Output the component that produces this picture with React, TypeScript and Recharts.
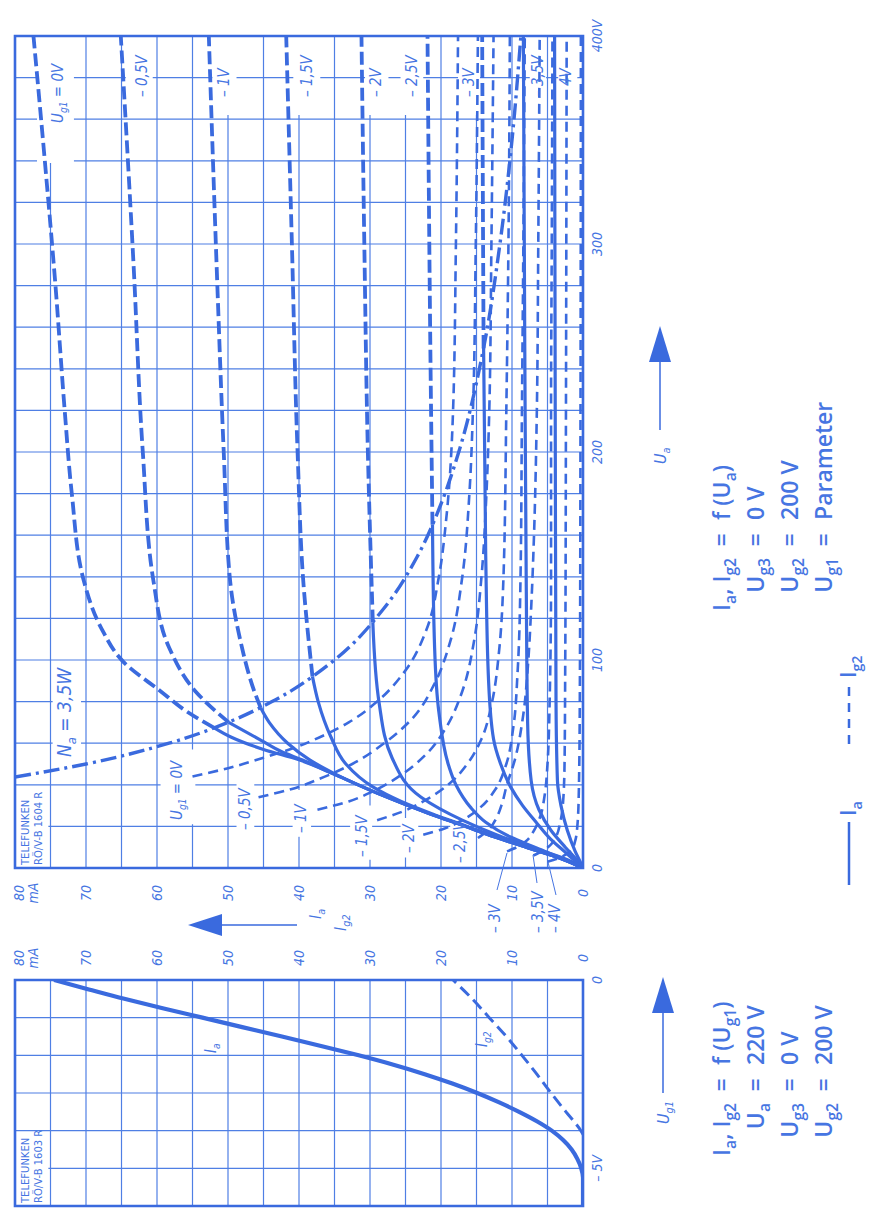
import React from 'react';
import { LineChart, Line, XAxis, YAxis, CartesianGrid, ReferenceArea } from 'recharts';

const BLUE = '#3a6ade';
const GRID = '#4f7fe4';
const INK = '#4675e2';

// axis grid + labels
const uaTicks = [0, 20, 40, 60, 80, 100, 120, 140, 160, 180, 200, 220, 240, 260, 280, 300, 320, 340, 360, 380, 400];
const uaLabels = [0, 100, 200, 300, 400];
const currentTicks = [0, 5, 10, 15, 20, 25, 30, 35, 40, 45, 50, 55, 60, 65, 70, 75, 80];
const currentLabels = [0, 10, 20, 30, 40, 50, 60, 70, 80];
const ug1Ticks = [-6, -5, -4, -3, -2, -1, 0];
const ug1Labels = [0, -5];

type Pair = [number, number];

// Ia = f(Ua), [Ua V, Ia mA]; limit = Ua where the curve meets Na = 3,5 W
const ia0: Pair[] = [[0, 0], [5, 3.5], [10, 8], [15, 12.5], [20, 16.5], [26, 21.5], [36, 29], [45, 35], [52, 40], [57, 45], [63, 49.6], [67.5, 52], [75, 55.7], [85, 59.5], [99, 64.7], [115, 67.8], [138, 70.3], [180, 72], [220, 73], [280, 74.3], [340, 75.8], [400, 77.4]];
const ia05: Pair[] = [[0, 0], [5, 3.5], [10, 8], [15, 12.5], [20, 16.5], [26, 21.5], [36, 29], [45, 35], [52, 39.6], [56, 42.5], [61.5, 45.4], [70, 49.9], [85, 54.6], [106, 58.3], [138, 60.5], [200, 62], [290, 63.3], [400, 65.1]];
const ia1: Pair[] = [[0, 0], [5, 3.5], [10, 8], [15, 12.5], [20, 16.5], [26, 21.5], [36, 29], [45, 34.8], [52, 38.5], [60, 41.6], [70, 44.2], [77, 45.4], [85, 46.3], [110, 48.3], [138, 49.7], [200, 50.6], [280, 51.5], [400, 52.7]];
const ia15: Pair[] = [[0, 0], [5, 3.4], [10, 7.8], [15, 12.3], [20, 16.3], [26, 21.2], [32, 25.6], [39, 29.6], [50, 33.4], [63, 35.5], [80, 37.3], [92, 38.1], [138, 39.4], [200, 40.2], [300, 41], [400, 41.8]];
const ia2: Pair[] = [[0, 0], [4, 2.2], [10, 7.3], [16, 12.2], [23, 17], [34, 22.8], [53, 26.9], [79, 28.7], [118, 29.6], [200, 30.3], [300, 30.8], [400, 31.2]];
const ia25: Pair[] = [[0, 0], [5, 3.2], [10, 6.8], [15, 10.3], [22, 13.7], [29, 15.8], [40, 17.9], [49, 18.9], [75, 20.3], [106, 20.9], [165, 21.2], [250, 21.5], [320, 21.7], [400, 21.9]];
const ia3: Pair[] = [[0, 0], [7, 2.3], [14, 4.6], [22, 6.6], [30, 8.5], [39, 10.2], [50, 11.6], [62, 12.6], [90, 13.3], [150, 13.7], [250, 14], [320, 14.1], [400, 14.2]];
const ia35: Pair[] = [[0, 0], [4, 0.9], [10, 2.5], [18, 4.5], [28, 6.2], [42, 7.3], [70, 7.8], [140, 8], [250, 8.2], [400, 8.4]];
const ia4: Pair[] = [[0, 0], [3, 0.4], [8, 1.1], [18, 2.2], [30, 3.1], [42, 3.6], [80, 3.8], [200, 3.9], [400, 4]];

const iaCurves = [
  { name: '0', pts: ia0, limit: 67.5 },
  { name: '-0.5', pts: ia05, limit: 70 },
  { name: '-1', pts: ia1, limit: 77 },
  { name: '-1.5', pts: ia15, limit: 92 },
  { name: '-2', pts: ia2, limit: 118 },
  { name: '-2.5', pts: ia25, limit: 165 },
  { name: '-3', pts: ia3, limit: 250 },
  { name: '-3.5', pts: ia35, limit: 400 },
  { name: '-4', pts: ia4, limit: 400 },
];

// Ig2 = f(Ua)
const ig20: Pair[] = [[44, 55], [48, 50], [53, 45], [58, 40.5], [63, 37], [70, 33], [80, 29], [95, 25], [115, 22], [140, 20.3], [170, 19.2], [220, 18.3], [300, 17.9], [400, 17.6]];
const ig205: Pair[] = [[34, 45.7], [38, 41], [43, 37], [50, 32.5], [60, 28], [72, 24], [88, 21], [110, 18.6], [140, 17], [180, 16], [220, 15.5], [300, 15.1], [400, 14.8]];
const ig21: Pair[] = [[28, 37.4], [32, 33], [37, 29.5], [45, 25.5], [55, 22], [68, 19.2], [85, 17], [110, 15.3], [140, 14.3], [180, 13.6], [220, 13.2], [300, 12.9], [400, 12.6]];
const ig215: Pair[] = [[23, 29], [27, 25.5], [32, 22.5], [40, 19], [50, 16.3], [62, 14.3], [80, 12.8], [105, 11.8], [140, 11.2], [220, 10.8], [300, 10.5], [400, 10.3]];
const ig22: Pair[] = [[16, 22.5], [19, 19.5], [23, 17], [29, 14.5], [38, 12.3], [50, 10.8], [68, 9.8], [95, 9.2], [140, 8.8], [220, 8.6], [300, 8.4], [400, 8.2]];
const ig225: Pair[] = [[14.4, 14.8], [18, 13.4], [24, 12.2], [31, 11.4], [39, 10.8], [52, 9.6], [74, 8.4], [100, 7.7], [125, 7.3], [160, 6.9], [220, 6.5], [300, 6.3], [400, 6.1]];
const ig23: Pair[] = [[8, 10.7], [10, 9.3], [13, 8], [18, 6.9], [25, 6], [35, 5.4], [50, 5], [80, 4.7], [140, 4.5], [220, 4.5], [300, 4.4], [400, 4.3]];
const ig235: Pair[] = [[6, 7], [8, 5.8], [11, 4.6], [15, 3.8], [22, 3.2], [32, 2.8], [50, 2.6], [100, 2.5], [220, 2.4], [400, 2.3]];
const ig24: Pair[] = [[3, 5], [4.5, 3.6], [6.5, 2.4], [9, 1.6], [13, 1.1], [20, 0.8], [35, 0.6], [80, 0.45], [220, 0.35], [400, 0.3]];
const ig2Curves = [ig20, ig205, ig21, ig215, ig22, ig225, ig23, ig235, ig24];

// Na = 3,5 W
const na: Pair[] = [[43.75, 80], [50, 70], [60, 58.3], [70, 50], [80, 43.8], [100, 35], [125, 28], [150, 23.3], [175, 20], [200, 17.5], [250, 14], [300, 11.7], [350, 10], [400, 8.75]];

// Ia, Ig2 = f(Ug1) at Ua = 220 V, [Ug1 V, mA]
const ugIa: Pair[] = [[-6, 0], [-5.25, 0], [-5, 0.25], [-4.75, 0.8], [-4.5, 1.6], [-4.25, 2.8], [-4, 4.4], [-3.75, 6.5], [-3.5, 9], [-3.25, 11.8], [-3, 14.9], [-2.75, 18.4], [-2.5, 22.3], [-2.25, 26.7], [-2, 31.6], [-1.75, 36.9], [-1.5, 42.4], [-1.25, 48], [-1, 53.6], [-0.75, 59.2], [-0.5, 64.6], [-0.25, 69.6], [0, 74.5]];
const ugIg2: Pair[] = [[-4.1, 0], [-4, 0.3], [-3.75, 1.3], [-3.5, 2.4], [-3, 4.5], [-2.5, 6.5], [-2, 8.6], [-1.5, 10.8], [-1, 13.2], [-0.5, 15.6], [0, 18.3]];

// white boxes behind labels [x1, x2, y1, y2] in data units
const upperBoxes = [
  [339, 400, 71.7, 76.9], [362, 400, 60.6, 64.4], [362, 400, 48.8, 52.2], [362, 400, 37, 40.8],
  [362, 400, 27.4, 30.7], [362, 400, 22.5, 25.7], [362, 400, 14.5, 17.6], [362, 400, 5.2, 7.5],
  [362, 400, 0.8, 3.5], [52, 98, 70.7, 74.7], [21, 57, 54.6, 59.5], [17, 42, 46.3, 48.8],
  [15, 37.5, 38.3, 40.9], [4, 30, 29.7, 32.8], [5, 24, 23.2, 25.7], [1, 22, 15.9, 18.7], [0, 36, 75.3, 80],
];
const lowerBoxes = [[-6, -4.05, 75.3, 80]];

const ua = (p: Pair[]) => p.map(([x, i]) => ({ ua: x, i }));
const ug = (p: Pair[]) => p.map(([x, i]) => ({ ug: x, i }));

const numFont = {
  fontFamily: "'DejaVu Sans Condensed', 'DejaVu Sans', sans-serif",
  fontStyle: 'italic' as const,
  fontSize: 14,
  fill: INK,
};
const SANS = "'Open Sans', 'DejaVu Sans', sans-serif";
const FS = 23;
const txtFont = { fontFamily: SANS, fontSize: FS, fontWeight: 600, fill: INK };

type Part = [string, boolean?];
const Rich = ({ x, y, parts, anchor = 'start', size = 16, italic = true, family, weight = 400 }: any) => {
  let prev = false;
  return (
    <text
      x={x}
      y={y}
      textAnchor={anchor}
      fontSize={size}
      fontWeight={weight}
      fontStyle={italic ? 'italic' : 'normal'}
      fontFamily={family || numFont.fontFamily}
      fill={INK}
    >
      {(parts as Part[]).map(([s, sub], k) => {
        const dy = sub && !prev ? size * 0.28 : !sub && prev ? -size * 0.28 : 0;
        prev = !!sub;
        return (
          <tspan key={k} dy={dy} fontSize={sub ? size * 0.68 : size}>
            {s}
          </tspan>
        );
      })}
    </text>
  );
};

const UaTick = ({ x, y, payload }: any) =>
  uaLabels.includes(payload.value) ? (
    <text x={x} y={y + 19} textAnchor="middle" {...numFont}>
      {payload.value === 400 ? '400V' : payload.value}
    </text>
  ) : (
    <g />
  );

const Ug1Tick = ({ x, y, payload }: any) =>
  ug1Labels.includes(payload.value) ? (
    <text x={x} y={y + 19} textAnchor="middle" {...numFont}>
      {payload.value === 0 ? '0' : '\u2013 5V'}
    </text>
  ) : (
    <g />
  );

const currentTick = (shift: number) => ({ x, y, payload }: any) => {
  const v = payload.value;
  if (!currentLabels.includes(v)) return <g />;
  if (v === 80)
    return (
      <g>
        <text x={x + shift} y={y + 9} textAnchor="middle" {...numFont}>80</text>
        <text x={x + shift} y={y + 23} textAnchor="middle" {...numFont}>mA</text>
      </g>
    );
  return (
    <text x={x + shift} y={y + 5} textAnchor="middle" {...numFont}>
      {v}
    </text>
  );
};

const UpperChart = () => (
  <LineChart width={900} height={640} margin={{ top: 15, right: 28, bottom: 27, left: 10 }}>
    <CartesianGrid stroke={GRID} strokeWidth={1.2} />
    <XAxis
      type="number"
      dataKey="ua"
      domain={[0, 400]}
      ticks={uaTicks}
      interval={0}
      height={30}
      tickSize={0}
      tickMargin={0}
      axisLine={false}
      tickLine={false}
      tick={UaTick}
      allowDataOverflow
    />
    <YAxis
      type="number"
      dataKey="i"
      domain={[0, 80]}
      ticks={currentTicks}
      interval={0}
      width={30}
      tickSize={0}
      tickMargin={0}
      axisLine={false}
      tickLine={false}
      tick={currentTick(-25)}
      allowDataOverflow
    />
    {upperBoxes.map((b, k) => (
      <ReferenceArea key={'b' + k} x1={b[0]} x2={b[1]} y1={b[2]} y2={b[3]} fill="#fff" fillOpacity={1} stroke="none" />
    ))}
    <Line data={ua(na)} dataKey="i" type="monotone" stroke={BLUE} strokeWidth={3.4} strokeDasharray="16 5 3 5" dot={false} activeDot={false} isAnimationActive={false} />
    {ig2Curves.map((c, k) => (
      <Line key={'g' + k} data={ua(c)} dataKey="i" type="monotone" stroke={BLUE} strokeWidth={2.6} strokeDasharray="10 6" dot={false} activeDot={false} isAnimationActive={false} />
    ))}
    {iaCurves.map((c) => (
      <Line key={'s' + c.name} data={ua(c.pts.filter((p) => p[0] <= c.limit))} dataKey="i" type="monotone" stroke={BLUE} strokeWidth={3.2} dot={false} activeDot={false} isAnimationActive={false} />
    ))}
    {iaCurves
      .filter((c) => c.limit < 400)
      .map((c) => (
        <Line key={'d' + c.name} data={ua(c.pts.filter((p) => p[0] >= c.limit))} dataKey="i" type="monotone" stroke={BLUE} strokeWidth={3.8} strokeDasharray="13 5" dot={false} activeDot={false} isAnimationActive={false} />
      ))}
    <ReferenceArea x1={0} x2={400} y1={0} y2={80} fill="none" stroke={BLUE} strokeWidth={2.6} />
  </LineChart>
);

const LowerChart = () => (
  <LineChart width={300} height={640} margin={{ top: 15, right: 42, bottom: 27, left: 2 }}>
    <CartesianGrid stroke={GRID} strokeWidth={1.2} />
    <XAxis
      type="number"
      dataKey="ug"
      domain={[-6, 0]}
      ticks={ug1Ticks}
      interval={0}
      height={30}
      tickSize={0}
      tickMargin={0}
      axisLine={false}
      tickLine={false}
      tick={Ug1Tick}
      allowDataOverflow
    />
    <YAxis
      type="number"
      orientation="right"
      dataKey="i"
      domain={[0, 80]}
      ticks={currentTicks}
      interval={0}
      width={30}
      tickSize={0}
      tickMargin={0}
      axisLine={false}
      tickLine={false}
      tick={currentTick(22)}
      allowDataOverflow
    />
    {lowerBoxes.map((b, k) => (
      <ReferenceArea key={'b' + k} x1={b[0]} x2={b[1]} y1={b[2]} y2={b[3]} fill="#fff" fillOpacity={1} stroke="none" />
    ))}
    <Line data={ug(ugIg2)} dataKey="i" type="monotone" stroke={BLUE} strokeWidth={3} strokeDasharray="12 6" dot={false} activeDot={false} isAnimationActive={false} />
    <Line data={ug(ugIa)} dataKey="i" type="monotone" stroke={BLUE} strokeWidth={4.2} dot={false} activeDot={false} isAnimationActive={false} />
    <ReferenceArea x1={-6} x2={0} y1={0} y2={80} fill="none" stroke={BLUE} strokeWidth={2.6} />
  </LineChart>
);

const dash = '\u2013 ';
const topLabels: [number, number, Part[]][] = [
  [1085, 63, [['U'], ['g1', true], [' = 0V']]],
  [1111, 147, [[dash + '0,5V']]],
  [1111, 229, [[dash + '1V']]],
  [1111, 312, [[dash + '1,5V']]],
  [1111, 381, [[dash + '2V']]],
  [1111, 417, [[dash + '2,5V']]],
  [1111, 474, [[dash + '3V']]],
  [1111, 543, [[dash + '3,5V']]],
  [1111, 571, [[dash + '4V']]],
  [388, 182, [['U'], ['g1', true], [' = 0V']]],
  [378, 250, [[dash + '0,5V']]],
  [375, 306, [[dash + '1V']]],
  [351, 367, [[dash + '1,5V']]],
  [355, 414, [[dash + '2V']]],
  [345, 465, [[dash + '2,5V']]],
  [275, 500, [[dash + '3V']]],
  [275, 543, [[dash + '3,5V']]],
  [275, 560, [[dash + '4V']]],
  [155, 216, [['I'], ['a', true]]],
  [161, 487, [['I'], ['g2', true]]],
];

const Formula = ({ eqX, rows }: { eqX: number; rows: [Part[], Part[]][] }) => (
  <g>
    {rows.map(([l, r], k) => {
      const y = 730 + k * 34;
      return (
        <g key={k}>
          <Rich x={eqX - 18} y={y} parts={l} anchor="end" size={FS} italic={false} family={SANS} weight={600} />
          <text x={eqX} y={y} textAnchor="middle" {...txtFont}>=</text>
          <Rich x={eqX + 20} y={y} parts={r} size={FS} italic={false} family={SANS} weight={600} />
        </g>
      );
    })}
  </g>
);

const Overlay = () => (
  <svg width={1208} height={872} style={{ position: 'absolute', left: 0, top: 0, pointerEvents: 'none' }}>
    {topLabels.map(([x, y, p], k) => (
      <Rich key={k} x={x} y={y} parts={p} size={15} />
    ))}
    <Rich x={451} y={71} parts={[['N'], ['a', true], [' = 3,5W']]} size={19} />
    {/* leader lines for the small grid voltages */}
    <line x1={318} y1={497} x2={355} y2={507} stroke={INK} strokeWidth={1} />
    <line x1={325} y1={537} x2={353} y2={533} stroke={INK} strokeWidth={1} />
    <line x1={313} y1={556} x2={346} y2={548} stroke={INK} strokeWidth={1} />
    {/* type plates */}
    <text x={343} y={29} fontSize={10} fontFamily="'DejaVu Sans', sans-serif" fill={INK}>TELEFUNKEN</text>
    <text x={343} y={42} fontSize={10} fontFamily="'DejaVu Sans', sans-serif" fill={INK}>RÖ/V-B 1604 R</text>
    <text x={5} y={29} fontSize={10} fontFamily="'DejaVu Sans', sans-serif" fill={INK}>TELEFUNKEN</text>
    <text x={5} y={42} fontSize={10} fontFamily="'DejaVu Sans', sans-serif" fill={INK}>RÖ/V-B 1603 R</text>
    {/* current axis title */}
    <line x1={283} y1={220} x2={283} y2={297} stroke={BLUE} strokeWidth={1.5} />
    <polygon points="283,188 272,222 294,222" fill={BLUE} />
    <Rich x={289} y={321} parts={[['I'], ['a', true]]} size={16} />
    <Rich x={277} y={346} parts={[['I'], ['g2', true]]} size={16} />
    {/* Ua arrow */}
    <line x1={778} y1={660} x2={848} y2={660} stroke={BLUE} strokeWidth={1.5} />
    <polygon points="882,660 846,649 846,671" fill={BLUE} />
    <Rich x={744} y={666} parts={[['U'], ['a', true]]} size={16} />
    {/* Ug1 arrow */}
    <line x1={115} y1={663} x2={197} y2={663} stroke={BLUE} strokeWidth={1.5} />
    <polygon points="231,663 195,652 195,674" fill={BLUE} />
    <Rich x={84} y={669} parts={[['U'], ['g1', true]]} size={16} />
    {/* conditions */}
    <Formula
      eqX={668}
      rows={[
        [[['I'], ['a', true], [', I'], ['g2', true]], [['f (U'], ['a', true], [')']]],
        [[['U'], ['g3', true]], [['0 V']]],
        [[['U'], ['g2', true]], [['200 V']]],
        [[['U'], ['g1', true]], [['Parameter']]],
      ]}
    />
    <Formula
      eqX={123}
      rows={[
        [[['I'], ['a', true], [', I'], ['g2', true]], [['f (U'], ['g1', true], [')']]],
        [[['U'], ['a', true]], [['220 V']]],
        [[['U'], ['g3', true]], [['0 V']]],
        [[['U'], ['g2', true]], [['200 V']]],
      ]}
    />
    {/* legend */}
    <line x1={323} y1={849} x2={386} y2={849} stroke={BLUE} strokeWidth={2.5} />
    <Rich x={392} y={856} parts={[['I'], ['a', true]]} size={21} italic={false} family={SANS} weight={600} />
    <line x1={464} y1={849} x2={521} y2={849} stroke={BLUE} strokeWidth={2.5} strokeDasharray="9 7" />
    <Rich x={530} y={856} parts={[['I'], ['g2', true]]} size={21} italic={false} family={SANS} weight={600} />
  </svg>
);

export default function App() {
  return (
    <div style={{ position: 'absolute', left: 0, top: 0, width: 872, height: 1208, overflow: 'hidden', background: '#fff' }}>
      <div
        style={{
          position: 'absolute',
          left: 0,
          top: 0,
          width: 1208,
          height: 872,
          transformOrigin: '0 0',
          transform: 'translateY(1208px) rotate(-90deg)',
        }}
      >
        <div style={{ position: 'absolute', left: 300, top: 0 }}>
          <UpperChart />
        </div>
        <div style={{ position: 'absolute', left: 0, top: 0 }}>
          <LowerChart />
        </div>
        <Overlay />
      </div>
    </div>
  );
}
